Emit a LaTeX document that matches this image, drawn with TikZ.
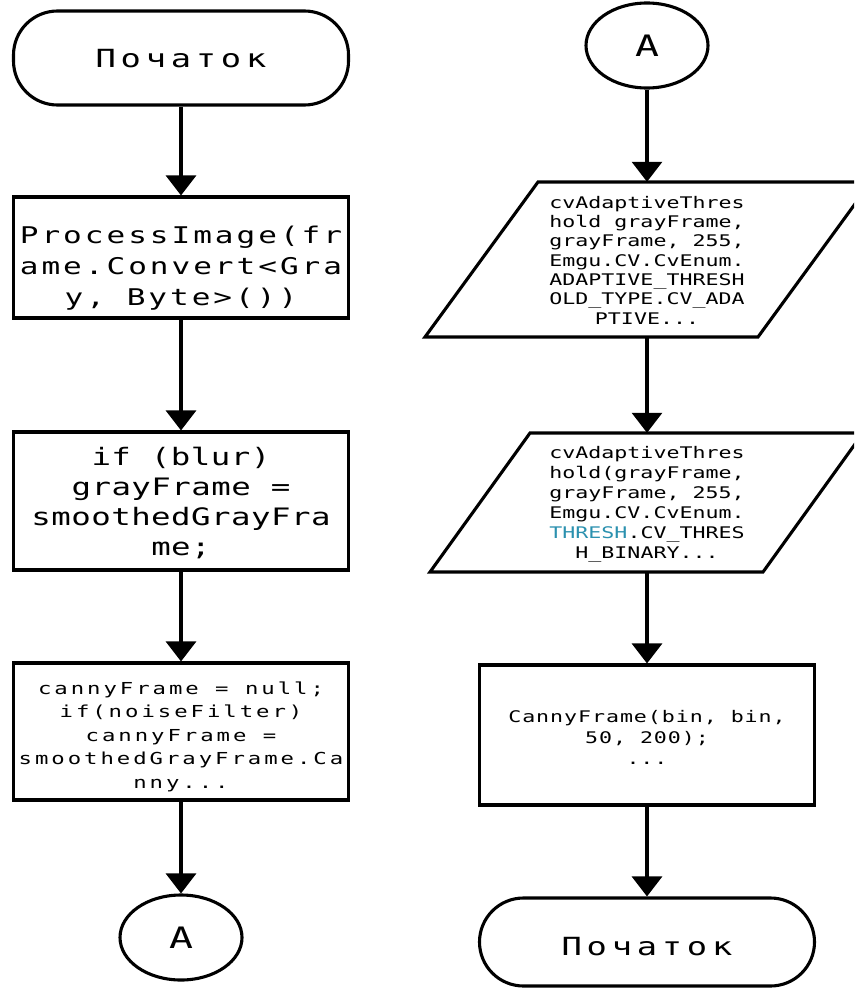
\documentclass[tikz,border=0pt]{standalone}
\usepackage{fontspec}
\setmainfont{DejaVu Sans Mono}[FakeStretch=1.35]
\usetikzlibrary{arrows.meta,shapes.geometric}
\definecolor{vsblue}{HTML}{2B91AF}
\newcommand\mf[3]{\fontsize{#1}{#2}\selectfont\addfontfeatures{LetterSpace=#3}}
\begin{document}
\begin{tikzpicture}[x=1pt,y=-1pt,
  lw/.style={line width=3.1pt},
  term/.style={lw, draw, rectangle, rounded corners=44pt, minimum width=335pt, inner sep=0pt},
  conn/.style={lw, draw, ellipse, minimum width=122pt, minimum height=85pt, inner sep=0pt, font=\mf{29.5}{30}{0}},
  box/.style={lw, draw, rectangle, minimum width=335pt, inner sep=0pt},
  hid/.style={rectangle, minimum width=333pt, inner sep=0pt},
  txt/.style={align=center, inner sep=0pt, anchor=base},
  arr/.style={lw, -{Triangle[width=30pt,length=20pt]}},
  par/.style={lw, line join=miter},
]
\useasboundingbox (0,0) rectangle (854,990);
\clip (0,0) rectangle (854,990);
\fill[white] (0,0) rectangle (854,990);

% left column
\node[term, minimum height=94pt] (s) at (181,58) {};
\node[txt, font=\mf{25}{30}{19}] (ts) at (181,67) {Початок};
\node[box, minimum height=121pt] (b1) at (181,257.5) {};
\node[txt, font=\mf{23}{31}{13}] (t1) at (181,305) {ProcessImage(fr\\ame.Convert<Gra\\y, Byte>())};
\node[box, minimum height=138pt] (b2) at (181,501) {};
\node[txt, font=\mf{24}{30}{2}] (t2) at (181,555) {if (blur)\\grayFrame =\\smoothedGrayFra\\me;};
\node[box, minimum height=137pt] (b3) at (181,731.5) {};
\node[txt, font=\mf{16.5}{23.5}{18}] (t3) at (181,788) {cannyFrame = null;\\if(noiseFilter)\\cannyFrame =\\smoothedGrayFrame.Ca\\nny...};
\node[conn] (a1) at (181,937.5) {A};

\draw[arr] (s) -- (b1);
\draw[arr] (b1) -- (b2);
\draw[arr] (b2) -- (b3);
\draw[arr] (b3) -- (a1);

% right column
\node[conn] (a2) at (647,45.5) {A};
\draw[par] (425,337) -- (538,182) -- (871,182) -- (758,337) -- cycle;
\node[hid, minimum height=155pt] (p1) at (647,259.5) {};
\node[txt, font=\mf{16}{19.3}{0}] (tp1) at (647,324) {cvAdaptiveThres\\hold grayFrame,\\grayFrame, 255,\\Emgu.CV.CvEnum.\\ADAPTIVE\_THRESH\\OLD\_TYPE.CV\_ADA\\PTIVE...};
\draw[par] (430,572) -- (530,433) -- (863,433) -- (763,572) -- cycle;
\node[hid, minimum height=139pt] (p2) at (647,502.5) {};
\node[txt, font=\mf{16}{20}{0}] (tp2) at (647,558) {cvAdaptiveThres\\hold(grayFrame,\\grayFrame, 255,\\Emgu.CV.CvEnum.\\\textcolor{vsblue}{THRESH}.CV\_THRES\\H\_BINARY...};
\node[box, minimum height=140pt] (rb) at (647,735) {};
\node[txt, font=\mf{16}{21}{6}] (trb) at (647,764) {CannyFrame(bin, bin,\\50, 200);\\...};
\node[term, minimum height=88pt] (e) at (647,942) {};
\node[txt, font=\mf{25}{30}{19}] (te) at (647,955) {Початок};

\draw[arr] (a2) -- (p1);
\draw[arr] (p1) -- (p2);
\draw[arr] (p2) -- (rb);
\draw[arr] (rb) -- (e);
\end{tikzpicture}
\end{document}
